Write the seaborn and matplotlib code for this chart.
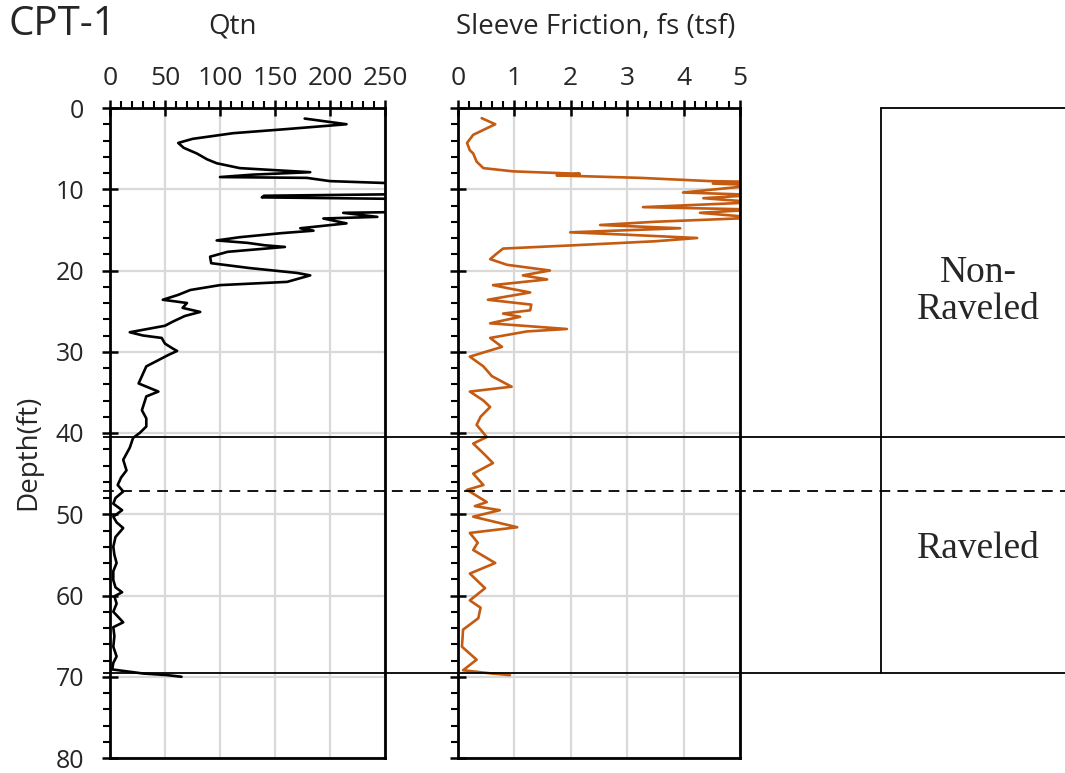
import numpy as np
import pandas as pd
import matplotlib.pyplot as plt
import seaborn as sns
from matplotlib.ticker import MultipleLocator

sns.set_style("white")
plt.rcParams['font.family'] = ['Open Sans', 'DejaVu Sans']

# CPT-1 log, values
qtn_depth = [1.3, 2.0, 2.6, 3.1, 3.8, 4.3, 4.9, 5.6, 6.3, 6.8, 7.4, 7.9, 8.2, 8.5, 8.6, 9.0,
             9.3, 10.0, 10.6, 10.8, 11.0, 11.2, 12.0, 12.8, 12.9, 13.4, 13.6, 14.2, 14.8, 15.1,
             15.4, 15.9, 16.3, 16.6, 16.9, 17.1, 17.7, 18.3, 19.1, 19.7, 20.3, 20.6, 21.4, 21.8,
             22.4, 23.0, 23.6, 24.0, 24.6, 25.1, 25.6, 26.3, 26.8, 27.6, 28.0, 28.3, 29.0, 29.6,
             29.9, 30.4, 31.8, 33.0, 33.9, 34.9, 35.5, 37.2, 38.2, 39.2, 40.0, 40.6, 41.8, 43.3,
             44.6, 45.5, 46.4, 47.2, 48.0, 48.7, 49.5, 50.3, 51.0, 51.7, 52.8, 54.0, 55.0, 56.0,
             57.0, 58.1, 59.0, 59.6, 60.1, 61.0, 62.0, 63.3, 63.9, 65.0, 66.3, 67.5, 68.3, 69.1,
             69.6, 69.8, 70.0]
qtn_value = [177, 215, 160, 112, 75, 62, 67, 79, 88, 97, 118, 182, 130, 100, 179, 200,
             265, 290, 270, 140, 138, 270, 300, 265, 212, 243, 194, 215, 173, 185,
             156, 118, 97, 125, 141, 159, 107, 91, 92, 127, 170, 182, 161, 100,
             73, 62, 48, 70, 66, 82, 68, 57, 50, 18, 30, 47, 50, 57,
             61, 53, 33, 29, 26, 44, 33, 29, 33, 33, 27, 21, 18, 12,
             15, 10, 7, 12, 5, 3, 11, 3, 6, 12, 5, 3, 4, 6,
             3, 3, 5, 11, 4, 6, 3, 12, 3, 4, 3, 6, 3, 2,
             30, 52, 65]

fs_depth = [1.25, 2.0, 2.7, 3.3, 4.3, 5.2, 5.6, 6.6, 7.4, 7.8, 8.0, 8.1, 8.3, 8.6, 9.0, 9.1,
            9.3, 9.5, 10.4, 10.7, 11.1, 11.6, 12.2, 12.5, 12.9, 13.5, 14.0, 14.4, 14.8, 15.3,
            15.6, 16.0, 16.4, 16.9, 17.3, 17.9, 18.6, 19.3, 20.0, 20.6, 21.1, 21.8, 22.2, 22.7,
            23.6, 24.2, 24.9, 25.3, 25.7, 26.5, 27.2, 27.5, 28.3, 29.4, 30.6, 31.8, 33.0, 34.3,
            34.9, 36.0, 36.8, 38.0, 39.0, 40.5, 41.3, 42.5, 43.7, 45.0, 46.4, 47.0, 48.5, 49.0,
            49.5, 50.3, 51.6, 52.3, 53.5, 54.4, 56.0, 57.3, 59.1, 60.6, 61.5, 62.8, 64.2, 66.3,
            67.9, 69.2, 69.6, 69.8]
fs_value = [0.42, 0.66, 0.45, 0.27, 0.16, 0.21, 0.27, 0.33, 0.45, 0.98, 1.75, 2.16, 1.75, 3.23, 4.47, 5.3,
            4.52, 5.3, 3.99, 5.3, 4.35, 5.3, 3.28, 5.3, 4.29, 5.3, 3.5, 2.52, 3.94, 1.99,
            3.0, 4.24, 3.5, 2.04, 0.8, 0.69, 0.57, 0.87, 1.63, 1.15, 1.58, 0.62, 0.9, 1.28,
            0.53, 1.3, 1.28, 0.8, 1.1, 0.57, 1.93, 1.22, 0.57, 0.78, 0.21, 0.45, 0.6, 0.95,
            0.21, 0.45, 0.57, 0.4, 0.33, 0.51, 0.27, 0.45, 0.62, 0.27, 0.45, 0.16, 0.51, 0.3,
            0.74, 0.27, 1.05, 0.21, 0.35, 0.27, 0.66, 0.21, 0.48, 0.21, 0.4, 0.36, 0.09, 0.07,
            0.33, 0.09, 0.6, 0.92]

qtn_ticks = [0, 50, 100, 150, 200, 250]
fs_ticks = [0, 1, 2, 3, 4, 5]
depth_ticks = [0, 10, 20, 30, 40, 50, 60, 70, 80]

# zone boundaries (ft)
zone_solid = [40.5, 69.5]
zone_dashed = 47.1
zone_labels = ['Non-\nRaveled', 'Raveled']
zone_label_depth = [22.6, 54.2]

W, H = 1065, 773
fig = plt.figure(figsize=(W / 100, H / 100), dpi=100)


def box(x0, y0, x1, y1):
    # pixel box -> figure fraction
    return [x0 / W, 1 - y1 / H, (x1 - x0) / W, (y1 - y0) / H]


ax1 = fig.add_axes(box(110, 108, 385, 758))
ax2 = fig.add_axes(box(458, 108, 740, 758))

qtn = pd.DataFrame({'depth': qtn_depth, 'Qtn': qtn_value})
fs = pd.DataFrame({'depth': fs_depth, 'fs': fs_value})
sns.lineplot(data=qtn, x='Qtn', y='depth', sort=False, estimator=None, color='black', lw=1.9, ax=ax1)
sns.lineplot(data=fs, x='fs', y='depth', sort=False, estimator=None, color='#c55a11', lw=1.9, ax=ax2)

for ax, ticks in [(ax1, qtn_ticks), (ax2, fs_ticks)]:
    ax.set_xlim(ticks[0], ticks[-1])
    ax.set_ylim(80, 0)
    ax.set_xlabel('')
    ax.set_ylabel('')
    ax.set_xticks(ticks)
    ax.xaxis.set_minor_locator(MultipleLocator(ticks[1] / 5))
    ax.set_yticks(depth_ticks)
    ax.yaxis.set_minor_locator(MultipleLocator(2))
    ax.set_axisbelow(True)
    ax.grid(True, which='major', color='#d9d9d9', lw=1.6)
    ax.tick_params(which='both', top=True, bottom=False, left=True, right=False,
                   labeltop=True, labelbottom=False, color='black', labelcolor='#262626')
    ax.tick_params(which='major', direction='inout', length=11, width=1.8, labelsize=19, pad=7)
    ax.tick_params(which='minor', direction='out', length=5, width=1.5)
    ax.tick_params(axis='y', which='major', labelsize=18, pad=13)
    for s in ax.spines.values():
        s.set_linewidth(2)
        s.set_color('black')
ax2.tick_params(axis='y', labelleft=False)

# overlay for the zone lines and boxes
ax3 = fig.add_axes(box(103, 108, 1065, 758))
ax3.set_xlim(0, 1)
ax3.set_ylim(80, 0)
ax3.axis('off')
ax3.patch.set_alpha(0)
ax3.axhline(zone_solid[0], color='black', lw=1.3)
ax3.axhline(zone_solid[1], color='black', lw=1.3)
ax3.axhline(zone_dashed, color='black', lw=1.3, ls=(0, (6, 4)))
bx = (881 - 103) / (1065 - 103)
ax3.plot([bx, bx], [0, zone_solid[1]], color='black', lw=1.3, clip_on=False)
ax3.plot([bx, 1], [0, 0], color='black', lw=1.3, clip_on=False)
for lab, d in zip(zone_labels, zone_label_depth):
    ax3.text(0.91, d, lab, ha='center', va='center', fontsize=27,
             family=['Liberation Serif', 'DejaVu Serif'], linespacing=1.1)

fig.text(9 / W, 1 - 25 / H, 'CPT-1', fontsize=29, va='center', ha='left', color='#262626')
fig.text(233 / W, 1 - 27 / H, 'Qtn', fontsize=20, va='center', ha='center', color='#262626')
fig.text(596 / W, 1 - 27 / H, 'Sleeve Friction, fs (tsf)', fontsize=20, va='center', ha='center',
         color='#262626')
fig.text(28 / W, 1 - 452 / H, 'Depth(ft)', fontsize=20, va='center', ha='center', rotation=90,
         color='#262626')

fig.savefig('out.png', dpi=100)
